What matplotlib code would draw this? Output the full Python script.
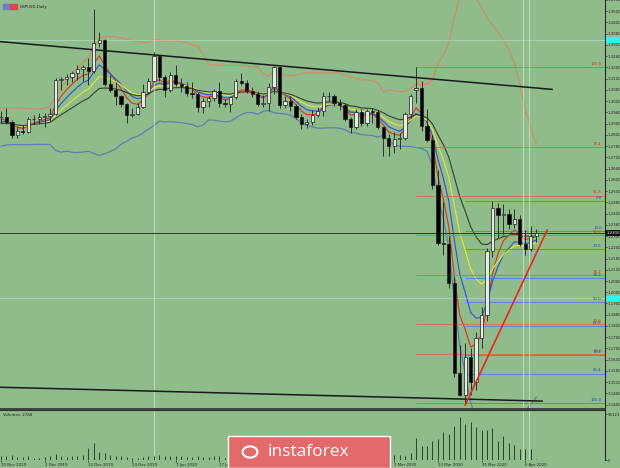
import matplotlib.pyplot as plt
import matplotlib.transforms as mtransforms
from matplotlib.patches import FancyBboxPatch, Rectangle
import numpy as np
import pandas as pd

# GBPUSD daily, 20 Nov 2019 .. 8 Apr 2020 (last bar is the current one)
dates = ["20 Nov 2019", "2 Dec 2019", "12 Dec 2019", "24 Dec 2019", "7 Jan 2020",
         "17 Jan 2020", "29 Jan 2020", "10 Feb 2020", "20 Feb 2020", "3 Mar 2020",
         "13 Mar 2020", "25 Mar 2020", "6 Apr 2020"]
date_bars = [0, 8, 16, 24, 32, 40, 48, 56, 64, 72, 80, 88, 96]

open_ = [1.2938, 1.2935, 1.2910, 1.2840, 1.2860, 1.2855, 1.2925, 1.2925, 1.2935, 1.2940,
         1.2950, 1.3135, 1.3140, 1.3150, 1.3170, 1.3190, 1.3200, 1.3180, 1.3330, 1.3345,
         1.3110, 1.3080, 1.3045, 1.3005, 1.2945, 1.2950, 1.2990, 1.3070, 1.3130, 1.3260,
         1.3150, 1.3080, 1.3160, 1.3110, 1.3100, 1.3065, 1.3060, 1.2990, 1.3020, 1.3035,
         1.3075, 1.3010, 1.3005, 1.3040, 1.3125, 1.3115, 1.3075, 1.3060, 1.3005, 1.3010,
         1.3095, 1.3200, 1.3000, 1.3020, 1.2995, 1.2935, 1.2900, 1.2910, 1.2945, 1.2965,
         1.3045, 1.3050, 1.3010, 1.3000, 1.2925, 1.2880, 1.2960, 1.2905, 1.2970, 1.2960,
         1.2880, 1.2825, 1.2780, 1.2820, 1.2825, 1.2950, 1.3080, 1.3090, 1.2885, 1.2815,
         1.2575, 1.2265, 1.2255, 1.2050, 1.1570, 1.1450, 1.1655, 1.1520, 1.1755, 1.1880,
         1.2220, 1.2450, 1.2415, 1.2416, 1.2363, 1.2389, 1.2257, 1.2230, 1.2300]
high = [1.2968, 1.2985, 1.2920, 1.2880, 1.2895, 1.2935, 1.2945, 1.2955, 1.2955, 1.2985,
        1.3145, 1.3150, 1.3165, 1.3180, 1.3215, 1.3215, 1.3250, 1.3514, 1.3390, 1.3350,
        1.3160, 1.3120, 1.3055, 1.3010, 1.2985, 1.3010, 1.3110, 1.3145, 1.3285, 1.3265,
        1.3160, 1.3175, 1.3215, 1.3145, 1.3120, 1.3120, 1.3070, 1.3035, 1.3050, 1.3085,
        1.3120, 1.3030, 1.3050, 1.3140, 1.3170, 1.3135, 1.3095, 1.3075, 1.3055, 1.3115,
        1.3210, 1.3205, 1.3045, 1.3045, 1.3005, 1.2950, 1.2925, 1.2975, 1.2990, 1.3070,
        1.3070, 1.3060, 1.3030, 1.3010, 1.2935, 1.2980, 1.2980, 1.2980, 1.2985, 1.2975,
        1.2880, 1.2845, 1.2855, 1.2850, 1.2960, 1.3060, 1.3200, 1.3130, 1.2980, 1.2840,
        1.2650, 1.2480, 1.2300, 1.2080, 1.1720, 1.1730, 1.1700, 1.1790, 1.1920, 1.2235,
        1.2485, 1.2475, 1.2470, 1.2445, 1.2445, 1.2410, 1.2330, 1.2355, 1.2340]
low = [1.2905, 1.2900, 1.2825, 1.2825, 1.2845, 1.2850, 1.2900, 1.2900, 1.2880, 1.2915,
       1.2945, 1.3080, 1.3105, 1.3120, 1.3135, 1.3130, 1.3105, 1.3170, 1.3310, 1.3100,
       1.3070, 1.3000, 1.2990, 1.2905, 1.2935, 1.2945, 1.2985, 1.3060, 1.3120, 1.3130,
       1.3040, 1.3070, 1.3100, 1.3070, 1.3045, 1.3035, 1.2960, 1.2955, 1.2990, 1.3020,
       1.2990, 1.2990, 1.2960, 1.3030, 1.3105, 1.3065, 1.3040, 1.2995, 1.2990, 1.2970,
       1.3060, 1.2985, 1.2985, 1.2970, 1.2925, 1.2870, 1.2875, 1.2895, 1.2935, 1.2940,
       1.3020, 1.2995, 1.2975, 1.2915, 1.2850, 1.2870, 1.2890, 1.2885, 1.2905, 1.2870,
       1.2725, 1.2725, 1.2745, 1.2765, 1.2815, 1.2930, 1.3010, 1.2860, 1.2800, 1.2550,
       1.2250, 1.2200, 1.2025, 1.1550, 1.1445, 1.1409, 1.1450, 1.1480, 1.1700, 1.1845,
       1.2190, 1.2290, 1.2310, 1.2340, 1.2345, 1.2245, 1.2200, 1.2220, 1.2270]
close = [1.2935, 1.2910, 1.2840, 1.2860, 1.2855, 1.2925, 1.2925, 1.2935, 1.2940, 1.2950,
         1.3135, 1.3140, 1.3150, 1.3170, 1.3190, 1.3200, 1.3180, 1.3330, 1.3345, 1.3110,
         1.3080, 1.3045, 1.3005, 1.2945, 1.2950, 1.2990, 1.3070, 1.3130, 1.3260, 1.3150,
         1.3080, 1.3160, 1.3110, 1.3100, 1.3065, 1.3060, 1.2990, 1.3020, 1.3035, 1.3075,
         1.3010, 1.3005, 1.3040, 1.3125, 1.3115, 1.3075, 1.3060, 1.3005, 1.3010, 1.3095,
         1.3200, 1.3000, 1.3020, 1.2995, 1.2935, 1.2900, 1.2910, 1.2945, 1.2965, 1.3045,
         1.3050, 1.3010, 1.3000, 1.2925, 1.2880, 1.2960, 1.2905, 1.2970, 1.2960, 1.2880,
         1.2825, 1.2780, 1.2820, 1.2825, 1.2950, 1.3045, 1.3090, 1.2885, 1.2815, 1.2575,
         1.2265, 1.2255, 1.2050, 1.1570, 1.1450, 1.1655, 1.1520, 1.1755, 1.1880, 1.2220,
         1.2450, 1.2415, 1.2416, 1.2363, 1.2389, 1.2257, 1.2230, 1.2300, 1.2315]
# closes before the first visible bar, only used to warm up the indicators
warmup_close = [1.2975, 1.2850, 1.2880, 1.2825, 1.2830, 1.2855, 1.2865, 1.2940, 1.2945,
                1.2945, 1.2895, 1.2875, 1.2865, 1.2805, 1.2775, 1.2855, 1.2855, 1.2855,
                1.2895, 1.2905, 1.2965, 1.2940]

volume = [9000, 8000, 10000, 7000, 6000, 8000, 5000, 4000, 7000, 8000,
          12000, 9000, 7000, 8000, 9000, 10000, 25000, 36000, 16000, 14000,
          11000, 9000, 8000, 7000, 4000, 5000, 7000, 8000, 9000, 10000,
          9000, 8000, 9000, 8000, 7000, 7000, 8000, 7000, 7000, 8000,
          9000, 5000, 8000, 10000, 8000, 8000, 7000, 8000, 9000, 11000,
          13000, 12000, 9000, 8000, 9000, 8000, 7000, 8000, 7000, 9000,
          7000, 5000, 7000, 9000, 9000, 9000, 8000, 9000, 8000, 11000,
          13000, 12000, 11000, 10000, 8100, 14800, 45100, 28300, 28300, 40500,
          43100, 57300, 54600, 70800, 89000, 75500, 78900, 68800, 62700, 63300,
          67400, 40500, 50600, 35000, 30400, 22300, 22300, 22300, 2788]

fib_red_hi, fib_red_lo = 1.3200, 1.1409
fib_red_levels = [14.6, 23.6, 38.2, 50.0, 61.8, 76.4, 100.0]
fib_blue_hi, fib_blue_lo = 1.2485, 1.1409
fib_blue_levels = [0.0, 14.6, 23.6, 38.2, 50.0, 61.8, 76.4, 85.4, 100.0]
fib_red_start, fib_blue_start = 76, 85

trend_upper = [(-0.2, 1.3338), (100.9, 1.3083)]
trend_lower = [(-0.2, 1.1493), (99.1, 1.1419)]
trend_red = [(85.0, 1.1398), (100.0, 1.2331)]
alert_levels = [1.3348, 1.1970]
vlines_at = [28, 95.6, 96.7]
bid = 1.2315

BG = "#8fbc8a"
FS = 2.8
n = len(close)
x = np.arange(n)

fig = plt.figure(figsize=(6.2, 4.68), dpi=100, facecolor=BG)
ax = fig.add_axes([0, 59 / 468, 605 / 620, 409 / 468], facecolor=BG)
axv = fig.add_axes([0, 8 / 468, 605 / 620, 50 / 468], facecolor=BG, sharex=ax)

# indicators
s = pd.Series(warmup_close + close)
k = len(warmup_close)
mas = {"#d8322a": 5, "#2e52d0": 8, "#e8e43a": 13, "#34402a": 21}
mid = s.rolling(20).mean()
sd = s.rolling(20).std(ddof=0)
ax.plot(x, (mid + 2 * sd).values[k:], color="#c8906a", lw=0.9)
ax.plot(x, (mid - 2 * sd).values[k:], color="#5f7fae", lw=0.9)
for col, p in mas.items():
    ax.plot(x, s.ewm(span=p, adjust=False).mean().values[k:], color=col, lw=0.8)

# candles
for i in range(n):
    o, h, l, c = open_[i], high[i], low[i], close[i]
    ax.vlines(i, l, h, color="#1e1e1e", lw=0.6, zorder=3)
    up = c >= o
    body = max(abs(c - o), 0.0002)
    ax.bar(i, body, bottom=min(o, c), width=0.6, color="#e4ece2" if up else "#000000",
           edgecolor="#1e1e1e", lw=0.5, zorder=4)

# fibonacci levels
ax.hlines(fib_red_lo, fib_red_start, fib_blue_start, color="#c8704e", lw=0.6, zorder=2)
for lv in fib_red_levels:
    p = fib_red_lo + lv / 100 * (fib_red_hi - fib_red_lo)
    ax.hlines(p, fib_red_start, 111, color="#c8704e", lw=0.6, zorder=2)
    ax.text(110.0, p + 0.0006, f"{lv:.1f}", color="#d03a1e", fontsize=FS, ha="right", va="bottom")
for lv in fib_blue_levels:
    p = fib_blue_hi - lv / 100 * (fib_blue_hi - fib_blue_lo)
    ax.hlines(p, fib_blue_start, 111, color="#5b7cc4", lw=0.6, zorder=2)
    ax.text(110.0, p + 0.0006, f"{lv:.1f}", color="#2a48c0", fontsize=FS, ha="right", va="bottom")

for lv in alert_levels:
    ax.axhline(lv, color="#c8f0ea", lw=0.5, alpha=0.6)
for v in vlines_at:
    ax.axvline(v, color="#d8e8d4", lw=0.6, alpha=0.8)
    axv.axvline(v, color="#d8e8d4", lw=0.6, alpha=0.8)

ax.plot(*zip(*trend_upper), color="#1a1a1a", lw=1.1)
ax.plot(*zip(*trend_lower), color="#1a1a1a", lw=1.1)
ax.plot(*zip(*trend_red), color="#e8281e", lw=1.2, zorder=5)
ax.axhline(bid, color="#202020", lw=0.6)

ax.set_xlim(-0.18, 110.6)
ax.set_ylim(1.13768, 1.35445)
ax.yaxis.tick_right()
ax.set_yticks(np.arange(1.1400, 1.3560, 0.0060))
ax.yaxis.set_major_formatter(plt.FuncFormatter(lambda v, _: f"{v:.4f}"))
ax.tick_params(axis="y", labelsize=FS, length=1.5, width=0.5, pad=0.4, colors="#202020")
ax.tick_params(axis="x", bottom=False, labelbottom=False)
for sp in ["left", "top"]:
    ax.spines[sp].set_visible(False)
ax.spines["right"].set_color("#2a2a2a")
ax.spines["bottom"].set_color("#303030")
ax.spines["bottom"].set_linewidth(1.2)

# axis markers
tr = mtransforms.blended_transform_factory(ax.transAxes, ax.transData)
for lv in alert_levels:
    ax.add_patch(Rectangle((1.0, lv - 0.0012), 0.03, 0.0024, transform=tr, color="#38f0f4",
                           clip_on=False))
ax.text(1.002, bid, f"{bid:.4f}", transform=tr, fontsize=FS, color="white", va="center",
        ha="left", bbox=dict(boxstyle="square,pad=0.2", fc="#101010", ec="none"))

# header
fig.patches.append(Rectangle((3 / 620, 1 - 9 / 468), 7 / 620, 5 / 468, transform=fig.transFigure,
                             color="#6c7cc8"))
fig.patches.append(Rectangle((10 / 620, 1 - 9 / 468), 7 / 620, 5 / 468, transform=fig.transFigure,
                             color="#d84848"))
fig.text(20 / 620, 1 - 7 / 468, "GBPUSD,Daily", fontsize=FS, color="#202020", va="center")

# volumes
axv.vlines(x, 0, volume, color="#26442a", lw=0.7)
axv.set_ylim(0, 104000)
axv.yaxis.tick_right()
axv.set_yticks([0, 95123])
axv.set_yticklabels(["0", "95123"])
axv.tick_params(axis="y", labelsize=FS, length=1.5, width=0.5, pad=0.4, colors="#202020")
axv.set_xticks(date_bars)
axv.set_xticklabels(dates, ha="left")
axv.tick_params(axis="x", labelsize=FS, length=1.5, width=0.5, pad=0.8, colors="#202020")
for sp in ["left", "bottom"]:
    axv.spines[sp].set_visible(False)
axv.spines["top"].set_color("#303030")
axv.spines["right"].set_color("#2a2a2a")
axv.text(0.005, 0.93, "Volumes: 2788", transform=axv.transAxes, fontsize=FS, color="#202020",
         va="top")

# logo
fig.patches.append(FancyBboxPatch((228 / 620, 0), 162 / 620, 32 / 468, transform=fig.transFigure,
                                  boxstyle="square,pad=0", fc="#e26a6a", ec="white", lw=1))
fig.text(308 / 620, 16 / 468, "instaforex", fontsize=12.5, color="white", ha="center",
         va="center", family="Open Sans")
fig.patches.append(plt.Circle((250 / 620, 16 / 468), 0.012, transform=fig.transFigure,
                              fc="none", ec="white", lw=1.5))

fig.savefig("out.png", dpi=100, facecolor=BG)
